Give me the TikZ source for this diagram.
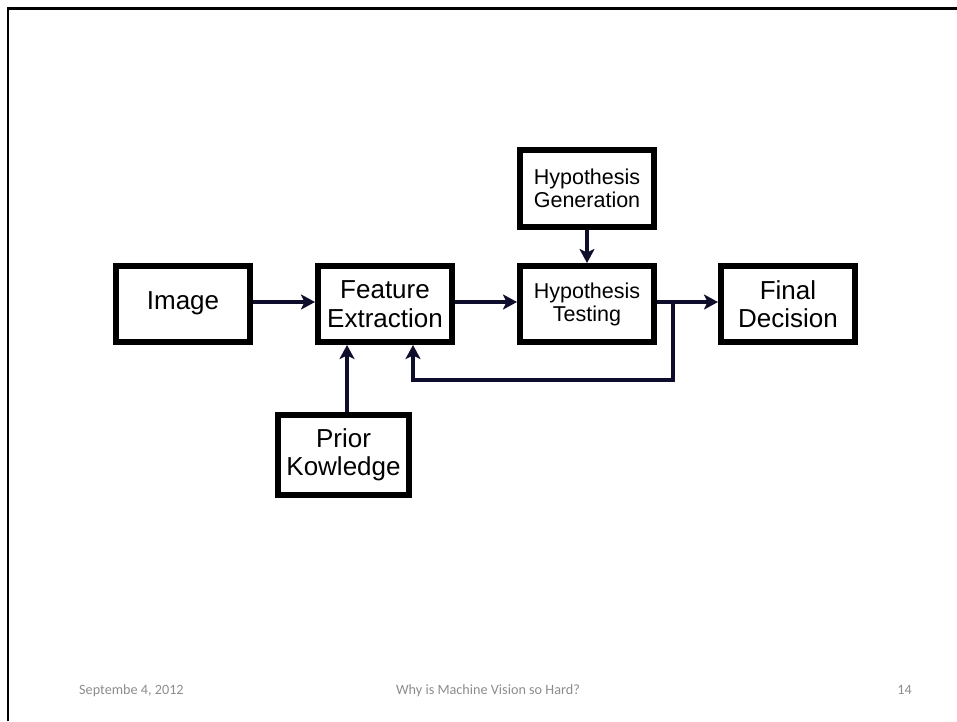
\documentclass[tikz,border=0pt]{standalone}
\usepackage{fontspec}
\setmainfont{Liberation Sans}
\newfontfamily\footfont{Carlito}
\usetikzlibrary{arrows.meta}
\definecolor{arrowblue}{HTML}{0E0E2C}
\definecolor{footgray}{HTML}{8C8C8C}
\begin{document}
\begin{tikzpicture}[x=1pt, y=-1pt,
  stage/.style={draw, line width=6pt, minimum width=134pt, minimum height=76pt, align=center,
                inner sep=0pt, font=\fontsize{26}{28.5}\selectfont},
  smallstage/.style={stage, font=\fontsize{21.5}{23}\selectfont},
  flow/.style={draw=arrowblue, line width=3.5pt, -{Stealth[length=14pt, width=15pt, inset=3.5pt]}},
  foot/.style={text=footgray, font=\footfont\fontsize{14.2}{16}\selectfont, inner sep=0pt}]
  \useasboundingbox (0,0) rectangle (957,721);
  \draw[line width=2.5pt] (8,721) -- (8,8.7) -- (957,8.7);
  % boxes
  \node [stage] (image) at (183,303.5) {Image};
  \node [stage] (feature) at (385,304) {Feature\\Extraction};
  \node [smallstage] (testing) at (587,304) {Hypothesis\\Testing};
  \node [stage] (decision) at (788,304) {Final\\Decision};
  \node [smallstage, minimum height=77pt] (generation) at (587,188.5) {Hypothesis\\Generation};
  \node [stage, minimum width=131pt, minimum height=80pt] (prior) at (343.5,455) {Prior\\Kowledge};
  % connectors
  \coordinate (split) at (673,302);
  \coordinate (back) at (413,380);
  \draw [flow] (image.east |- 0,302) -- (feature.west |- 0,302);
  \draw [flow] (feature.east |- 0,302) -- (testing.west |- 0,302);
  \draw [flow] (generation) -- (testing);
  \draw [flow] (testing.east |- split) -- (decision.west |- split);
  \draw [flow] (split) |- (back) -- (back |- feature.south);
  \draw [flow] (prior.north -| 347,0) -- (feature.south -| 347,0);
  % footer
  \node [foot, anchor=base west] (date) at (79,694) {Septembe 4, 2012};
  \node [foot, anchor=base] (title) at (488,694) {Why is Machine Vision so Hard?};
  \node [foot, anchor=base east] (page) at (912,694) {14};
\end{tikzpicture}
\end{document}
